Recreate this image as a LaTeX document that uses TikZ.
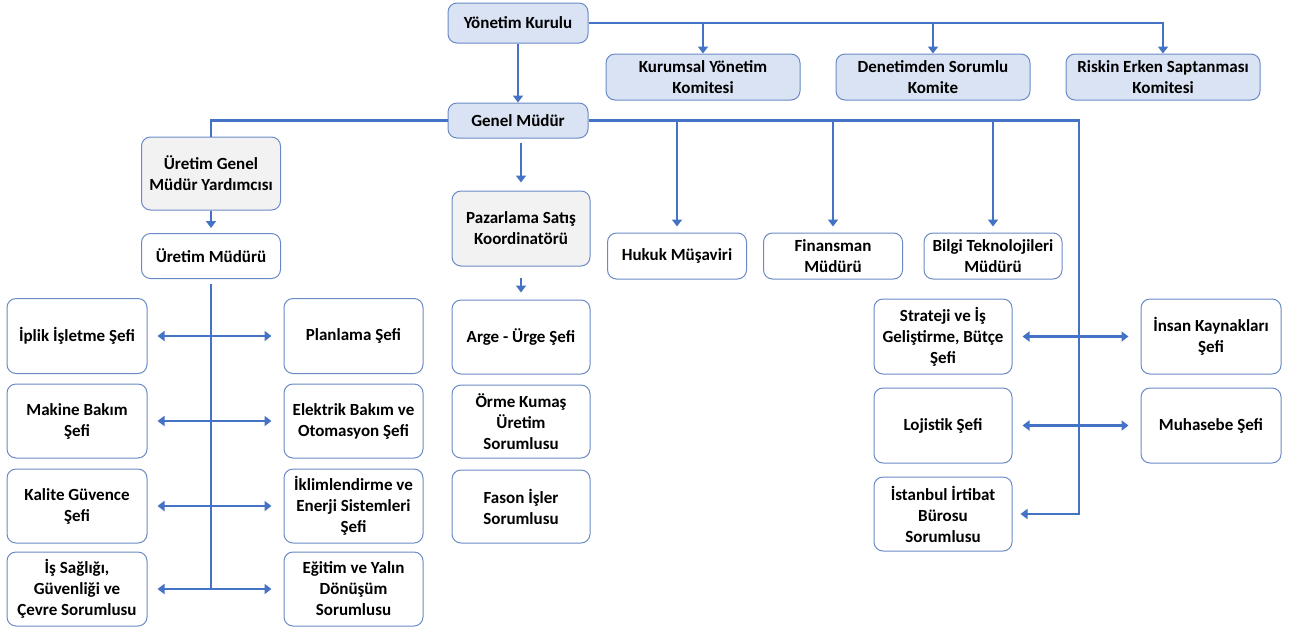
\documentclass[tikz,border=0pt]{standalone}
\usepackage{fontspec}
\setmainfont{Carlito}
\usepackage{xcolor}
\usetikzlibrary{arrows.meta}

\definecolor{hat}{HTML}{4472C4}
\definecolor{cerceve}{HTML}{6A8AC6}
\definecolor{mavidolgu}{HTML}{DAE3F3}
\definecolor{gridolgu}{HTML}{F2F2F2}

\tikzset{
	kutu/.style={rectangle,rounded corners=9pt,draw=cerceve,line width=1pt,fill=white,
		align=center,inner sep=0pt,font=\fontsize{17}{21}\selectfont\bfseries},
	mavikutu/.style={kutu,fill=mavidolgu},
	grikutu/.style={kutu,fill=gridolgu},
	baglanti/.style={draw=hat,line width=2.6pt},
	ok/.style={baglanti,-{Triangle[width=10pt,length=7pt]}},
	ciftok/.style={baglanti,{Triangle[width=10pt,length=7pt]}-{Triangle[width=10pt,length=7pt]},
		shorten <=10pt,shorten >=12pt}
}

\begin{document}
\begin{tikzpicture}[x=1pt,y=-1pt]
		\useasboundingbox (0,0) rectangle (1289,630);

		% ust kademe
		\node[mavikutu,minimum width=140,minimum height=40] (yk) at (518,23) {Yönetim Kurulu};
		\node[mavikutu,minimum width=194,minimum height=46] (kurumsal) at (703,77) {Kurumsal Yönetim\\Komitesi};
		\node[mavikutu,minimum width=194,minimum height=46] (denetim) at (933,77) {Denetimden Sorumlu\\Komite};
		\node[mavikutu,minimum width=194,minimum height=46] (risk) at (1163,77) {Riskin Erken Saptanması\\Komitesi};
		\node[mavikutu,minimum width=140,minimum height=35] (gm) at (518,120.5) {Genel Müdür};

		% uretim tarafi
		\node[grikutu,minimum width=139,minimum height=73] (ugmy) at (211,173.5) {Üretim Genel\\Müdür Yardımcısı};
		\node[kutu,minimum width=139,minimum height=45] (um) at (211,256) {Üretim Müdürü};
		\coordinate (umalt) at (211,589);

		\node[kutu,minimum width=140,minimum height=75] (iplik) at (77,336) {İplik İşletme Şefi};
		\node[kutu,minimum width=140,minimum height=74] (makine) at (77,421) {Makine Bakım\\Şefi};
		\node[kutu,minimum width=140,minimum height=74] (kalite) at (77,506) {Kalite Güvence\\Şefi};
		\node[kutu,minimum width=140,minimum height=74] (isg) at (77,589) {İş Sağlığı,\\Güvenliği ve\\Çevre Sorumlusu};

		\node[kutu,minimum width=139,minimum height=75] (planlama) at (353.5,336) {Planlama Şefi};
		\node[kutu,minimum width=139,minimum height=74] (elektrik) at (353.5,421) {Elektrik Bakım ve\\Otomasyon Şefi};
		\node[kutu,minimum width=139,minimum height=74] (iklim) at (353.5,506) {İklimlendirme ve\\Enerji Sistemleri\\Şefi};
		\node[kutu,minimum width=139,minimum height=74] (egitim) at (353.5,589) {Eğitim ve Yalın\\Dönüşüm\\Sorumlusu};

		% pazarlama tarafi
		\node[grikutu,minimum width=138,minimum height=75] (pazarlama) at (521,228.5) {Pazarlama Satış\\Koordinatörü};
		\node[kutu,minimum width=138,minimum height=74] (arge) at (521,337) {Arge - Ürge Şefi};
		\node[kutu,minimum width=138,minimum height=73] (orme) at (521,421.5) {Örme Kumaş\\Üretim\\Sorumlusu};
		\node[kutu,minimum width=138,minimum height=73] (fason) at (521,506.5) {Fason İşler\\Sorumlusu};

		% mudurlukler
		\node[kutu,minimum width=139,minimum height=46] (hukuk) at (677,256) {Hukuk Müşaviri};
		\node[kutu,minimum width=139,minimum height=46] (finans) at (833,256) {Finansman\\Müdürü};
		\node[kutu,minimum width=138,minimum height=46] (bilgi) at (993,256) {Bilgi Teknolojileri\\Müdürü};

		% sefler
		\coordinate (sagkose) at (1079,120.5);
		\node[kutu,minimum width=138,minimum height=75] (strateji) at (943,336.5) {Strateji ve İş\\Geliştirme, Bütçe\\Şefi};
		\node[kutu,minimum width=138,minimum height=75] (lojistik) at (943,425.5) {Lojistik Şefi};
		\node[kutu,minimum width=138,minimum height=74] (istanbul) at (943,514) {İstanbul İrtibat\\Bürosu\\Sorumlusu};
		\node[kutu,minimum width=140,minimum height=75] (insan) at (1211,336.5) {İnsan Kaynakları\\Şefi};
		\node[kutu,minimum width=140,minimum height=75] (muhasebe) at (1211,425.5) {Muhasebe Şefi};

		% baglantilar
		\draw[ok] (yk.east) -| (risk.north);
		\foreach \k in {kurumsal, denetim}
			\draw[ok] (yk.east -| \k.north) -- (\k.north);
		\draw[ok] (yk) -- (gm);

		\draw[baglanti] (gm.west) -| (ugmy.north);
		\draw[ok,shorten >=5pt] (ugmy) -- (um);
		\draw[baglanti,shorten <=5pt] (um.south) -- (umalt);
		\foreach \a/\b in {iplik/planlama, makine/elektrik, kalite/iklim, isg/egitim}
			\draw[ciftok] (\a.east) -- (\b.west);

		\draw[ok,shorten <=4pt,shorten >=8pt] (gm.south -| pazarlama.north) -- (pazarlama.north);
		\draw[ok,shorten <=11pt,shorten >=7pt] (pazarlama) -- (arge);

		\draw[ok,shorten >=8pt] (gm.east) -- (sagkose) |- (istanbul.east);
		\foreach \k in {hukuk, finans, bilgi}
			\draw[ok,shorten >=6pt] (sagkose -| \k.north) -- (\k.north);
		\draw[ciftok] (strateji.east) -- (insan.west);
		\draw[ciftok] (lojistik.east) -- (muhasebe.west);
	\end{tikzpicture}
\end{document}
